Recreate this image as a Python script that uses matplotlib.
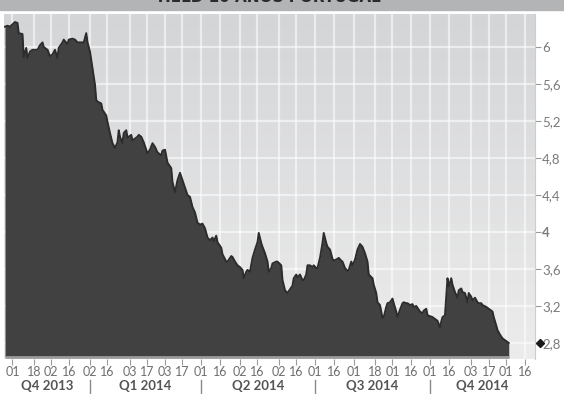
import matplotlib
matplotlib.use("Agg")
import matplotlib.pyplot as plt
import matplotlib.transforms as mtransforms
from matplotlib.colors import LinearSegmentedColormap
from matplotlib.patches import Rectangle
import numpy as np
import pandas as pd

# -----------------------
# data
# -----------------------
dates = [
    "2013-10-26", "2013-10-28", "2013-10-30",
    "2013-11-03", "2013-11-05", "2013-11-06", "2013-11-09", "2013-11-10", "2013-11-12", "2013-11-13",
    "2013-11-15", "2013-11-17", "2013-11-21", "2013-11-23", "2013-11-25", "2013-11-26", "2013-11-29",
    "2013-12-01", "2013-12-03", "2013-12-05", "2013-12-07", "2013-12-08", "2013-12-11", "2013-12-12",
    "2013-12-15", "2013-12-16", "2013-12-19", "2013-12-21", "2013-12-23", "2013-12-27", "2013-12-28",
    "2013-12-30", "2013-12-31",
    "2014-01-02", "2014-01-04", "2014-01-06", "2014-01-07", "2014-01-08", "2014-01-11", "2014-01-12",
    "2014-01-15", "2014-01-16", "2014-01-18", "2014-01-20", "2014-01-22", "2014-01-24", "2014-01-25",
    "2014-01-26", "2014-01-28", "2014-01-29", "2014-01-31",
    "2014-02-01", "2014-02-04", "2014-02-05", "2014-02-09", "2014-02-10", "2014-02-12", "2014-02-14",
    "2014-02-17", "2014-02-19", "2014-02-21", "2014-02-23", "2014-02-25", "2014-02-28",
    "2014-03-01", "2014-03-03", "2014-03-05", "2014-03-08", "2014-03-09", "2014-03-11", "2014-03-13",
    "2014-03-15", "2014-03-17", "2014-03-19", "2014-03-21", "2014-03-23", "2014-03-25", "2014-03-27",
    "2014-03-29", "2014-03-31",
    "2014-04-02", "2014-04-04", "2014-04-06", "2014-04-08", "2014-04-10", "2014-04-11", "2014-04-13",
    "2014-04-14", "2014-04-17", "2014-04-18", "2014-04-21", "2014-04-22", "2014-04-25", "2014-04-26",
    "2014-04-28", "2014-04-30",
    "2014-05-02", "2014-05-04", "2014-05-05", "2014-05-07", "2014-05-08", "2014-05-10", "2014-05-12",
    "2014-05-14", "2014-05-16", "2014-05-17", "2014-05-19", "2014-05-20", "2014-05-22", "2014-05-24",
    "2014-05-25", "2014-05-27", "2014-05-28", "2014-05-31",
    "2014-06-01", "2014-06-04", "2014-06-05", "2014-06-07", "2014-06-09", "2014-06-11", "2014-06-13",
    "2014-06-14", "2014-06-16", "2014-06-17", "2014-06-19", "2014-06-21", "2014-06-22", "2014-06-24",
    "2014-06-25", "2014-06-27", "2014-06-29", "2014-06-30",
    "2014-07-02", "2014-07-03", "2014-07-05", "2014-07-07", "2014-07-08", "2014-07-10", "2014-07-11",
    "2014-07-13", "2014-07-15", "2014-07-16", "2014-07-19", "2014-07-20", "2014-07-22", "2014-07-23",
    "2014-07-25", "2014-07-27", "2014-07-28", "2014-07-30", "2014-07-31",
    "2014-08-02", "2014-08-04", "2014-08-06", "2014-08-08", "2014-08-10", "2014-08-12", "2014-08-13",
    "2014-08-16", "2014-08-17", "2014-08-19", "2014-08-20", "2014-08-22", "2014-08-24", "2014-08-25",
    "2014-08-27", "2014-08-28", "2014-08-30",
    "2014-09-01", "2014-09-02", "2014-09-04", "2014-09-05", "2014-09-07", "2014-09-09", "2014-09-10",
    "2014-09-12", "2014-09-13", "2014-09-15", "2014-09-17", "2014-09-18", "2014-09-20", "2014-09-21",
    "2014-09-23", "2014-09-25", "2014-09-26", "2014-09-28", "2014-09-29",
    "2014-10-01", "2014-10-03", "2014-10-04", "2014-10-06", "2014-10-07", "2014-10-09", "2014-10-10",
    "2014-10-11", "2014-10-13", "2014-10-14", "2014-10-15", "2014-10-16", "2014-10-18", "2014-10-19",
    "2014-10-21", "2014-10-23", "2014-10-24", "2014-10-26", "2014-10-27", "2014-10-29", "2014-10-31",
    "2014-11-01", "2014-11-03", "2014-11-04", "2014-11-06", "2014-11-08", "2014-11-09", "2014-11-11",
    "2014-11-12", "2014-11-15", "2014-11-16", "2014-11-18", "2014-11-20", "2014-11-21", "2014-11-23",
    "2014-11-24", "2014-11-26", "2014-11-28", "2014-11-30",
    "2014-12-02", "2014-12-03",
]

yields = [
    6.22, 6.23, 6.22,
    6.27, 6.26, 6.15, 6.14, 5.89, 5.99, 5.88, 5.95, 5.97, 5.97, 6.02, 6.05, 6.00, 5.97,
    5.90, 5.92, 5.97, 5.88, 5.99, 6.05, 6.08, 6.03, 6.08, 6.09, 6.08, 6.05, 6.05, 6.05, 6.15, 6.05,
    5.95, 5.77, 5.59, 5.43, 5.41, 5.39, 5.32, 5.26, 5.19, 5.07, 4.96, 4.91, 4.97, 5.10, 5.03, 4.96,
    5.07, 5.10,
    5.02, 5.05, 4.99, 5.03, 5.05, 5.03, 4.97, 4.85, 4.89, 4.96, 4.92, 4.86, 4.83,
    4.88, 4.89, 4.75, 4.69, 4.54, 4.43, 4.56, 4.64, 4.56, 4.48, 4.40, 4.38, 4.27, 4.21, 4.10, 4.08,
    4.09, 4.04, 3.94, 3.91, 3.94, 3.90, 3.96, 3.89, 3.83, 3.76, 3.68, 3.68, 3.74, 3.73, 3.68, 3.64,
    3.62, 3.59, 3.50, 3.57, 3.59, 3.57, 3.72, 3.81, 3.89, 3.99, 3.88, 3.84, 3.77, 3.68, 3.57, 3.61,
    3.66, 3.68,
    3.68, 3.64, 3.48, 3.37, 3.34, 3.38, 3.42, 3.50, 3.54, 3.51, 3.54, 3.48, 3.48, 3.54, 3.64, 3.64,
    3.62, 3.64,
    3.61, 3.61, 3.72, 3.88, 3.99, 3.88, 3.84, 3.81, 3.71, 3.69, 3.71, 3.72, 3.69, 3.68, 3.61, 3.58,
    3.59, 3.68, 3.64,
    3.70, 3.81, 3.87, 3.84, 3.77, 3.68, 3.54, 3.50, 3.43, 3.34, 3.24, 3.21, 3.07, 3.08, 3.19, 3.23,
    3.24,
    3.28, 3.23, 3.14, 3.08, 3.16, 3.23, 3.24, 3.23, 3.23, 3.21, 3.22, 3.19, 3.20, 3.18, 3.14, 3.12,
    3.15, 3.17, 3.10,
    3.09, 3.08, 3.07, 3.05, 3.04, 2.97, 3.03, 3.08, 3.10, 3.30, 3.50, 3.41, 3.50, 3.43, 3.35, 3.29,
    3.37, 3.39, 3.35, 3.34, 3.24,
    3.34, 3.30, 3.26, 3.29, 3.24, 3.23, 3.23, 3.21, 3.19, 3.18, 3.16, 3.14, 3.08, 2.99, 2.94, 2.89,
    2.85, 2.83,
    2.81, 2.80,
]

tick_dates = [
    "2013-11-01", "2013-11-18", "2013-12-02", "2013-12-16", "2014-01-02", "2014-01-16",
    "2014-02-03", "2014-02-17", "2014-03-03", "2014-03-17", "2014-04-01", "2014-04-16",
    "2014-05-02", "2014-05-16", "2014-06-02", "2014-06-16", "2014-07-01", "2014-07-16",
    "2014-08-01", "2014-08-18", "2014-09-01", "2014-09-16", "2014-10-01", "2014-10-16",
    "2014-11-03", "2014-11-17", "2014-12-01", "2014-12-16",
]
tick_labels = [d[-2:] for d in tick_dates]

quarter_names = ["Q4 2013", "Q1 2014", "Q2 2014", "Q3 2014", "Q4 2014"]
quarter_starts = ["2014-01-02", "2014-04-01", "2014-07-01", "2014-10-01"]

y_ticks = [2.8, 3.2, 3.6, 4.0, 4.4, 4.8, 5.2, 5.6, 6.0]

x = pd.to_datetime(dates)
assert len(x) == len(yields)

FONT = ["Lato", "DejaVu Sans"]

# -----------------------
# figure
# -----------------------
W, H = 564, 394
fig = plt.figure(figsize=(W / 100, H / 100), dpi=100)
fig.patches.append(Rectangle((0, 1 - 10 / H), 1, 10 / H, transform=fig.transFigure,
                             color="#b3b4b6", zorder=0))
fig.text(267 / W, 1 - 2 / H, "YIELD 10 ANOS PORTUGAL", ha="center", va="baseline",
         fontsize=11, fontweight="bold", color="#2b2b2b")

ax = fig.add_axes([4 / W, 35 / H, 531 / W, 345 / H])

bg = LinearSegmentedColormap.from_list("bg", ["#d4d5d7", "#ececec"])
ax.imshow(np.linspace(0, 1, 256).reshape(-1, 1), cmap=bg, extent=[0, 1, 0, 1],
          transform=ax.transAxes, aspect="auto", zorder=0)

base = 2.65
ax.fill_between(x, yields, base, color="#414142", lw=0, zorder=2)
ax.plot(x, yields, color="#2c2c2c", lw=1.4, zorder=3)
ax.hlines(base, x[0], x[-1], color="#9b9b9b", lw=2, zorder=3)

ax.set_xlim(pd.Timestamp("2013-10-25 05:00"), pd.Timestamp("2014-12-24"))
ax.set_ylim(2.627, 6.357)

ax.set_xticks(pd.to_datetime(tick_dates))
ax.set_xticklabels(tick_labels)
ax.set_yticks(y_ticks)
ax.set_yticklabels([f"{v:g}".replace(".", ",") for v in y_ticks])
ax.yaxis.tick_right()

ax.set_axisbelow(True)
ax.grid(True, color="white", alpha=0.55, lw=1.6)

for s in ["top", "left", "bottom"]:
    ax.spines[s].set_visible(False)
ax.spines["right"].set_color("#cdcdcd")

ax.tick_params(axis="x", length=4, color="#9a9a9a", labelcolor="#6e6e6e",
               labelsize=9, pad=1)
ax.tick_params(axis="y", length=4, color="#9a9a9a", labelcolor="#7a7a7a",
               labelsize=9.5, pad=1)
for lab in ax.get_xticklabels() + ax.get_yticklabels():
    lab.set_fontfamily(FONT)
for lab, v in zip(ax.get_yticklabels(), y_ticks):
    if v == 4.0:
        lab.set_fontweight("bold")

# last value marker on the right axis
trans_y = mtransforms.blended_transform_factory(ax.transAxes, ax.transData)
ax.plot([1.0094], [yields[-1]], marker="D", ms=4.5, color="#1a1a1a",
        transform=trans_y, clip_on=False, zorder=5)

# quarter band under the date ticks
trans_x = mtransforms.blended_transform_factory(ax.transData, ax.transAxes)
lo, hi = ax.get_xlim()
bounds = [lo] + [ax.convert_xunits(pd.Timestamp(d)) for d in quarter_starts] + [hi]
bounds = [float(b) for b in bounds]
for b in bounds[1:-1]:
    ax.plot([b, b], [-0.061, -0.11], color="#8a8a8a", lw=1, transform=trans_x, clip_on=False)
for name, a, b in zip(quarter_names, bounds[:-1], bounds[1:]):
    ax.text((a + b) / 2, -0.078, name, transform=trans_x, ha="center", va="center",
            fontsize=9.5, fontweight="bold", color="#555555", family=FONT)

fig.savefig("out.png", dpi=100)
